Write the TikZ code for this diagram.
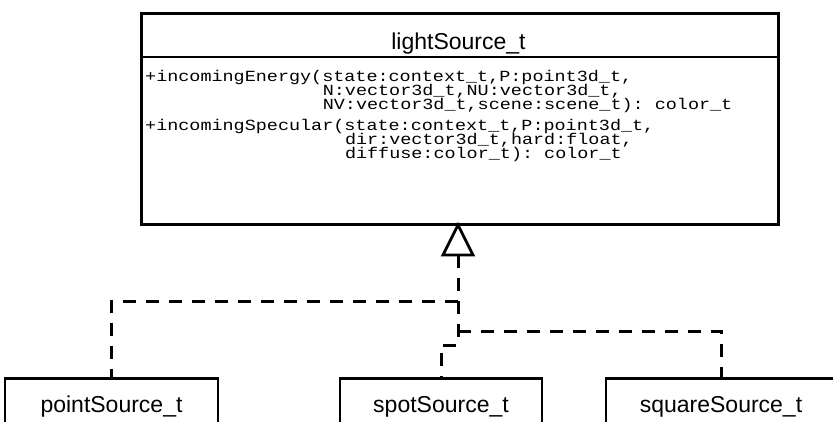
\documentclass[tikz,border=0pt]{standalone}
\usepackage{fontspec}
\setmainfont{Liberation Sans}
\setmonofont{Liberation Mono}
\usepackage{graphicx}
\begin{document}
\begin{tikzpicture}[x=1pt,y=-1pt,
  box/.style={draw, line width=2.8pt, inner sep=0pt},
  conn/.style={line width=3pt, dash pattern=on 13pt off 10pt},
  optext/.style={anchor=base west, inner sep=0pt, font=\ttfamily\fontsize{15.5}{15.5}\selectfont},
  clsname/.style={font=\fontsize{23}{23}\selectfont, inner sep=0pt},
  tri/.style={draw, line width=2.8pt, fill=white, line join=miter}
]
\useasboundingbox (0,0) rectangle (833,421);
% main class
\node[box, minimum width=637pt, minimum height=211pt, anchor=north west] (ls) at (140,12) {};
\node[clsname, anchor=base] (lsname) at (458.5,49) {lightSource\_t};
\coordinate (divl) at (140,57);
\coordinate (divr) at (777,57);
\draw[line width=2.8pt] (divl) -- (divr);
% operations
\node[optext] (e1) at (145,81) {\scalebox{1.19}[1]{+incomingEnergy(state:context\_t,P:point3d\_t,}};
\node[optext] (e2) at (322.6,95) {\scalebox{1.19}[1]{N:vector3d\_t,NU:vector3d\_t,}};
\node[optext] (e3) at (322.6,109) {\scalebox{1.19}[1]{NV:vector3d\_t,scene:scene\_t): color\_t}};
\node[optext] (s1) at (145,130) {\scalebox{1.19}[1]{+incomingSpecular(state:context\_t,P:point3d\_t,}};
\node[optext] (s2) at (344.8,144) {\scalebox{1.19}[1]{dir:vector3d\_t,hard:float,}};
\node[optext] (s3) at (344.8,158) {\scalebox{1.19}[1]{diffuse:color\_t): color\_t}};
% subclasses
\node[box, clsname, minimum width=213pt, minimum height=56pt, anchor=north] (pt) at (111.5,377) {pointSource\_t};
\node[box, clsname, minimum width=202pt, minimum height=56pt, anchor=north] (sp) at (441,377) {spotSource\_t};
\node[box, clsname, minimum width=230pt, minimum height=56pt, anchor=north] (sq) at (721,377) {squareSource\_t};
% connectors
\coordinate (apex) at (458,225);
\coordinate (tbl) at (443,255);
\coordinate (tbr) at (473,255);
\coordinate (tb) at (458,255);
\coordinate (jup) at (458,301);
\coordinate (jlow) at (458,331);
\coordinate (jcorner) at (458,345);
\draw[conn] (tb) -- (jup) -| (pt.north);
\draw[conn] (jup) -- (jcorner) -| (sp.north);
\draw[conn] (jlow) -| (sq.north);
\draw[tri] (apex) -- (tbl) -- (tbr) -- cycle;
\end{tikzpicture}
\end{document}
